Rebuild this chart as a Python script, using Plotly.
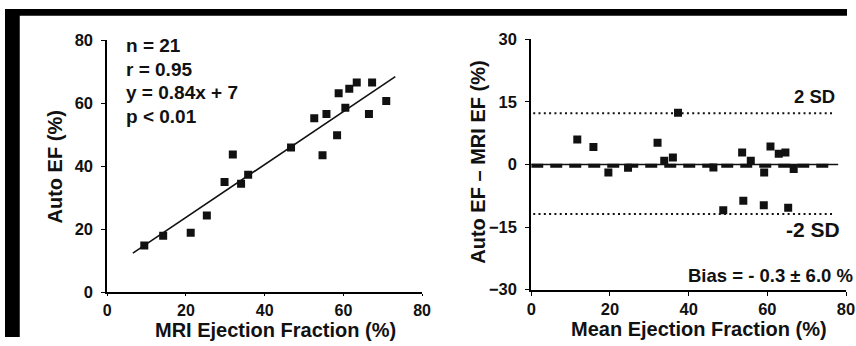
import plotly.graph_objects as go

W, H = 856, 346

# ---------------- data ----------------
mri_ef = [9.4, 14.2, 21.2, 25.3, 29.8, 31.9, 34.0, 35.8, 46.7, 52.6,
          54.7, 55.7, 58.4, 58.8, 60.5, 61.5, 63.4, 66.5, 67.3, 70.9]
auto_ef = [14.9, 18.0, 18.9, 24.4, 35.0, 43.8, 34.5, 37.3, 46.0, 55.3,
           43.5, 56.6, 49.9, 63.2, 58.6, 64.6, 66.6, 56.6, 66.6, 60.7]
fit_slope, fit_intercept = 0.84, 7
fit_x = [6.5, 73.2]
fit_y = [fit_slope * v + fit_intercept for v in fit_x]

mean_ef = [11.7, 15.8, 19.6, 24.6, 32.1, 33.8, 36.0, 37.3, 46.3, 48.8,
           53.6, 53.9, 55.8, 59.1, 59.2, 60.8, 62.9, 64.6, 65.3, 66.7]
diff_ef = [6.0, 4.2, -1.9, -0.8, 5.2, 0.9, 1.7, 12.4, -0.7, -11.0,
           2.9, -8.7, 0.9, -9.8, -1.9, 4.3, 2.6, 2.9, -10.4, -1.1]
bias = -0.3
sd_upper, sd_lower = 12.3, -11.9
line_x = [0.5, 76.5]

stats_lines = ["n = 21", "r = 0.95", "y = 0.84x + 7", "p < 0.01"]
left_ticks = [0, 20, 40, 60, 80]
right_yticks = [-30, -15, 0, 15, 30]

FONT = "Liberation Sans, Arial, sans-serif"
INK = "#111111"


def px(x):
    return x / W


def py(y):
    return 1 - y / H


fig = go.Figure()

fig.add_trace(go.Scatter(x=mri_ef, y=auto_ef, mode="markers",
                         marker=dict(symbol="square", size=8, color=INK),
                         xaxis="x", yaxis="y", showlegend=False))
fig.add_trace(go.Scatter(x=fit_x, y=fit_y, mode="lines",
                         line=dict(color=INK, width=1.6),
                         xaxis="x", yaxis="y", showlegend=False))

fig.add_trace(go.Scatter(x=line_x, y=[sd_upper, sd_upper], mode="lines",
                         line=dict(color=INK, width=2, dash="2px,3.3px"),
                         xaxis="x2", yaxis="y2", showlegend=False))
fig.add_trace(go.Scatter(x=line_x, y=[sd_lower, sd_lower], mode="lines",
                         line=dict(color=INK, width=2, dash="2px,3.3px"),
                         xaxis="x2", yaxis="y2", showlegend=False))
fig.add_trace(go.Scatter(x=[0, 78], y=[0, 0], mode="lines",
                         line=dict(color=INK, width=1.5),
                         xaxis="x2", yaxis="y2", showlegend=False))
fig.add_trace(go.Scatter(x=[0, 76], y=[bias, bias], mode="lines",
                         line=dict(color=INK, width=4, dash="12px,7px"),
                         xaxis="x2", yaxis="y2", showlegend=False))
fig.add_trace(go.Scatter(x=mean_ef, y=diff_ef, mode="markers",
                         marker=dict(symbol="square", size=8, color=INK),
                         xaxis="x2", yaxis="y2", showlegend=False))


def tfont(size):
    return dict(family=FONT, size=size, color=INK, weight="bold")


def axis(**kw):
    d = dict(showgrid=False, zeroline=False, showline=True,
             linecolor="black", linewidth=2, ticks="outside", ticklen=4,
             tickcolor="black", tickfont=tfont(16.5))
    d.update(kw)
    return d


fig.update_layout(
    width=W, height=H,
    margin=dict(l=0, r=0, t=0, b=0),
    paper_bgcolor="white", plot_bgcolor="white",
    xaxis=axis(domain=[px(104), px(424)], range=[0, 80], tickvals=left_ticks,
               anchor="y", ticklen=2, tickfont=tfont(16)),
    yaxis=axis(domain=[py(299), py(33)], range=[0, 80], tickvals=left_ticks,
               anchor="x", ticklabelstandoff=5),
    xaxis2=axis(domain=[px(535), px(855)], range=[0, 80], tickvals=left_ticks,
                anchor="y2"),
    yaxis2=axis(domain=[py(296), py(32)], range=[-30, 30], tickvals=right_yticks,
                anchor="x2", ticklabelstandoff=5),
)

annots = []
title_font = tfont(20)
annots.append(dict(text="MRI Ejection Fraction (%)", x=px(275), y=py(339),
                   xref="paper", yref="paper", showarrow=False, borderpad=0,
                   xanchor="center", yanchor="middle", font=title_font))
annots.append(dict(text="Auto EF (%)", x=px(51), y=py(167), textangle=-90,
                   xref="paper", yref="paper", showarrow=False,
                   xanchor="center", yanchor="middle", font=title_font))
annots.append(dict(text="Mean Ejection Fraction (%)", x=px(706), y=py(338),
                   xref="paper", yref="paper", showarrow=False, borderpad=0,
                   xanchor="center", yanchor="middle", font=title_font))
annots.append(dict(text="Auto EF – MRI EF (%)", x=px(480), y=py(162), textangle=-90,
                   xref="paper", yref="paper", showarrow=False,
                   xanchor="center", yanchor="middle", font=title_font))

for i, s in enumerate(stats_lines):
    annots.append(dict(text=s, x=px(121), y=py(39 + 24.7 * i),
                       xref="paper", yref="paper", showarrow=False,
                       xanchor="left", yanchor="middle", font=tfont(19)))

annots.append(dict(text="2 SD", x=px(846), y=py(92), xref="paper", yref="paper",
                   showarrow=False, xanchor="right", yanchor="middle",
                   font=tfont(18.5)))
annots.append(dict(text="-2 SD", x=px(851), y=py(233), xref="paper", yref="paper",
                   showarrow=False, xanchor="right", yanchor="middle",
                   font=tfont(21)))
annots.append(dict(text="Bias = - 0.3 ± 6.0 %", x=px(692), y=py(281),
                   xref="paper", yref="paper", showarrow=False,
                   xanchor="left", yanchor="middle", font=tfont(18.5)))
fig.update_layout(annotations=annots)

# black scan border at top and left
fig.update_layout(shapes=[
    dict(type="rect", xref="paper", yref="paper", x0=0, x1=1, y0=py(7), y1=1,
         fillcolor="black", line=dict(width=0), layer="below"),
    dict(type="rect", xref="paper", yref="paper", x0=0, x1=px(15), y0=0, y1=1,
         fillcolor="black", line=dict(width=0), layer="below"),
])

fig.write_html("out.html")
